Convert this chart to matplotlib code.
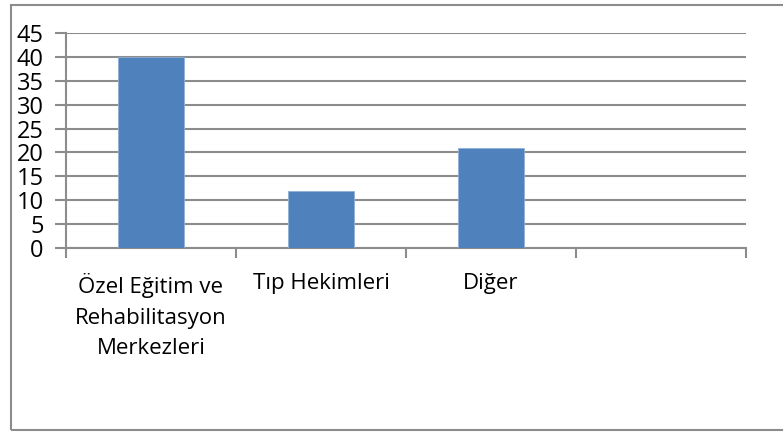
import numpy as np
import matplotlib.pyplot as plt
from matplotlib.patches import Rectangle

# Chart data
categories = ["Özel Eğitim ve\nRehabilitasyon\nMerkezleri", "Tıp Hekimleri", "Diğer", ""]
values = [40, 12, 21, None]
y_ticks = [0, 5, 10, 15, 20, 25, 30, 35, 40, 45]

plt.rcParams['font.family'] = ['Open Sans', 'DejaVu Sans']

fig = plt.figure(figsize=(7.83, 4.32), dpi=100)
ax = fig.add_axes([66 / 783, 1 - 248 / 432, 680 / 783, 215 / 432])

# outer chart border (runs off the right edge like the original)
fig.patches.append(Rectangle((11 / 783, 2 / 432), 1.0, 425 / 432, transform=fig.transFigure,
                             fill=False, edgecolor='#8c8c8c', linewidth=1.5))

centers = np.arange(len(categories)) + 0.5
for x, v in zip(centers, values):
    if v is not None:
        ax.bar(x, v, width=0.39, color='#4f81bd', edgecolor='#8fb0d8', linewidth=0.6, zorder=3)

ax.set_xlim(0, len(categories))
ax.set_ylim(0, 45)
ax.set_yticks(y_ticks)
ax.set_yticklabels([str(t) for t in y_ticks], fontsize=17)
ax.yaxis.grid(True, color='#8c8c8c', linewidth=1.5, zorder=0)
ax.tick_params(axis='y', length=8, width=1.5, color='#8c8c8c', pad=8)

ax.set_xticks(np.arange(len(categories) + 1))
ax.set_xticklabels([])
ax.set_xticks(centers, minor=True)
ax.set_xticklabels(categories, minor=True, fontsize=16, linespacing=1.6, va='top')
ax.tick_params(axis='x', which='minor', length=0, pad=18)
ax.tick_params(axis='x', which='major', length=7, width=1.5, color='#8c8c8c')

for s in ['top', 'right']:
    ax.spines[s].set_visible(False)
for s in ['left', 'bottom']:
    ax.spines[s].set_color('#8c8c8c')
    ax.spines[s].set_linewidth(1.5)
ax.set_axisbelow(True)

fig.savefig('out.png', dpi=100)
